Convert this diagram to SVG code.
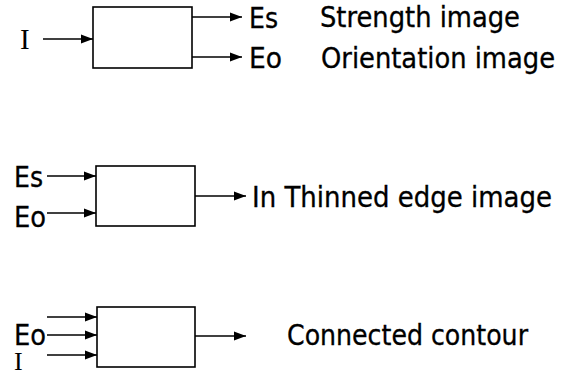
<svg xmlns="http://www.w3.org/2000/svg" width="567" height="375" viewBox="0 0 567 375">
<style>
.box{fill:#fff;stroke:#000;stroke-width:1.6}
.ln{stroke:#000;stroke-width:1.6;fill:none;marker-end:url(#ah)}
.t{font-family:"DejaVu Sans Condensed","DejaVu Sans",Verdana,sans-serif;font-size:29px;fill:#000;stroke:#000;stroke-width:0.3}
.s{font-family:"Liberation Serif","Times New Roman",serif;font-size:29px;fill:#000}
</style>
<defs>
<marker id="ah" markerUnits="userSpaceOnUse" markerWidth="13" markerHeight="11" refX="12" refY="5.5" orient="auto">
<path d="M0,1 L12,5.5 L0,10 Z" fill="#000"/>
</marker>
</defs>
<rect width="567" height="375" fill="#fff"/>
<g id="connectors">
<line class="ln" x1="43" y1="39" x2="93" y2="39"/>
<line class="ln" x1="192" y1="17" x2="242" y2="17"/>
<line class="ln" x1="192" y1="57" x2="242" y2="57"/>
<line class="ln" x1="47" y1="176" x2="96" y2="176"/>
<line class="ln" x1="47" y1="213" x2="96" y2="213"/>
<line class="ln" x1="195" y1="196" x2="246" y2="196"/>
<line class="ln" x1="47" y1="317" x2="97" y2="317"/>
<line class="ln" x1="47" y1="335" x2="97" y2="335"/>
<line class="ln" x1="47" y1="355" x2="97" y2="355"/>
<line class="ln" x1="195" y1="336" x2="246" y2="336"/>
</g>
<g id="node1">
<rect class="box" x="93" y="7" width="99" height="61"/>
</g>
<g id="node2">
<rect class="box" x="96" y="166" width="99" height="60"/>
</g>
<g id="node3">
<rect class="box" x="97" y="307" width="98" height="60"/>
</g>
<g id="labels">
<text class="s" x="20" y="49">I</text>
<text class="t" x="249" y="28" textLength="29" lengthAdjust="spacingAndGlyphs">Es</text>
<text class="t" x="249" y="68" textLength="33" lengthAdjust="spacingAndGlyphs">Eo</text>
<text class="t" x="320" y="27" textLength="200" lengthAdjust="spacingAndGlyphs">Strength image</text>
<text class="t" x="321" y="68" textLength="234" lengthAdjust="spacingAndGlyphs">Orientation image</text>
<text class="t" x="14" y="187" textLength="29" lengthAdjust="spacingAndGlyphs">Es</text>
<text class="t" x="14" y="227" textLength="32" lengthAdjust="spacingAndGlyphs">Eo</text>
<text class="t" x="252" y="207" textLength="300" lengthAdjust="spacingAndGlyphs">In Thinned edge image</text>
<text class="t" x="14" y="345" textLength="32" lengthAdjust="spacingAndGlyphs">Eo</text>
<text class="s" x="14" y="370" style="font-size:26px">I</text>
<text class="t" x="287" y="345" textLength="241" lengthAdjust="spacingAndGlyphs">Connected contour</text>
</g>
</svg>
